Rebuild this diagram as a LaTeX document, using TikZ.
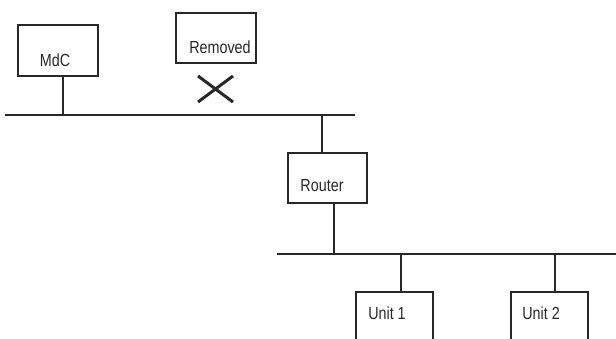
\documentclass[tikz,border=0pt]{standalone}
\usepackage{fontspec}
\setmainfont{Liberation Sans}
\definecolor{ink}{RGB}{40,40,40}
\newcommand\narrowtxt[1]{\scalebox{0.82}[1]{#1}}
\begin{document}
\begin{tikzpicture}[x=1pt,y=-1pt,
  box/.style={draw=ink,line width=1.3pt,minimum width=#1,inner sep=0pt},
  lbl/.style={text=ink,font=\fontsize{17.5}{19}\selectfont,inner sep=0pt},
  wire/.style={draw=ink,line width=1.3pt}]
\useasboundingbox (0,0) rectangle (616,338);
\clip (0,0) rectangle (616,338);
% boxes
\node[box=80pt,minimum height=51pt] (mdc) at (58,50.5) {};
\node[box=80pt,minimum height=50pt] (rem) at (216,38) {};
\node[box=79pt,minimum height=50pt] (rtr) at (327.5,178) {};
\node[box=77pt,minimum height=68pt] (u1) at (394.5,326) {};
\node[box=77pt,minimum height=68pt] (u2) at (549.5,326) {};
% labels
\node[lbl] (tmdc) at (55,60) {\narrowtxt{MdC}};
\node[lbl] (trem) at (220,47) {\narrowtxt{Removed}};
\node[lbl] (trtr) at (322,186) {\narrowtxt{Router}};
\node[lbl] (tu1) at (387,313) {\narrowtxt{Unit 1}};
\node[lbl] (tu2) at (541,313) {\narrowtxt{Unit 2}};
% buses
\coordinate (b1l) at (5,115);
\coordinate (b1r) at (355,115);
\coordinate (b2l) at (277,254);
\coordinate (b2r) at (616,254);
\draw[wire] (b1l) -- (b1r);
\draw[wire] (b2l) -- (b2r);
% taps
\coordinate (tapm) at (63,115);
\coordinate (tapr) at (322,115);
\coordinate (tapr2) at (334,254);
\coordinate (tap1) at (401,254);
\coordinate (tap2) at (555,254);
\draw[wire] (mdc.south -| tapm) -- (tapm);
\draw[wire] (tapr) -- (rtr.north -| tapr);
\draw[wire] (rtr.south -| tapr2) -- (tapr2);
\draw[wire] (tap1) -- (u1.north -| tap1);
\draw[wire] (tap2) -- (u2.north -| tap2);
% removed mark
\coordinate (xa) at (198,76);
\coordinate (xb) at (233,102);
\coordinate (xc) at (198,102);
\coordinate (xd) at (233,76);
\draw[draw=ink,line width=3pt] (xa) -- (xb) (xc) -- (xd);
\end{tikzpicture}
\end{document}
